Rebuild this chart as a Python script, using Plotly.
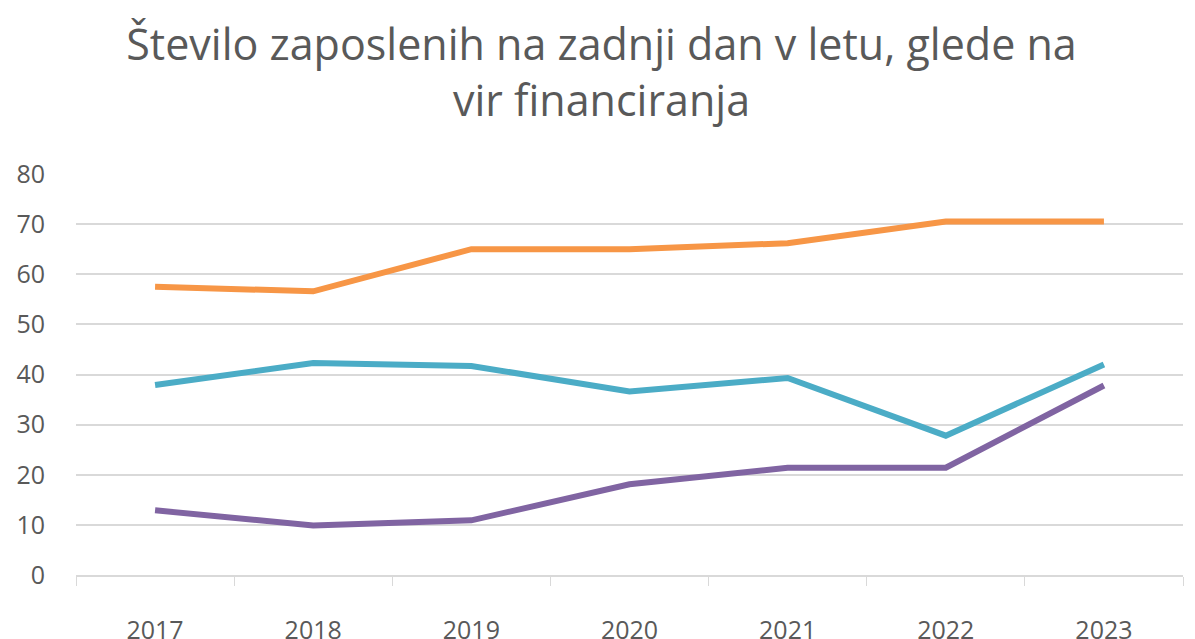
import plotly.graph_objects as go

years = ["2017", "2018", "2019", "2020", "2021", "2022", "2023"]
orange_vals = [57.5, 56.6, 65.0, 65.0, 66.2, 70.5, 70.5]
cyan_vals = [37.9, 42.3, 41.7, 36.6, 39.3, 27.8, 42.0]
purple_vals = [12.9, 9.9, 10.9, 18.1, 21.4, 21.4, 37.8]

y_ticks = [0, 10, 20, 30, 40, 50, 60, 70, 80]

series = [
    ("orange", orange_vals, "#F79646"),
    ("cyan", cyan_vals, "#4BACC6"),
    ("purple", purple_vals, "#8064A2"),
]

fig = go.Figure()
for name, vals, color in series:
    fig.add_trace(go.Scatter(x=years, y=vals, mode="lines", name=name,
                             line=dict(color=color, width=6)))

# page body has an 8px margin, so the figure is made 8px smaller
fig.update_layout(
    width=1187, height=631,
    paper_bgcolor="white", plot_bgcolor="white",
    showlegend=False,
    margin=dict(l=68, r=12, t=166, b=64, autoexpand=False),
    title=dict(text="Število zaposlenih na zadnji dan v letu, glede na<br>vir financiranja",
               x=0.5, xanchor="center", y=0.917, yanchor="middle",
               font=dict(family="Open Sans", size=43, color="#595959")),
    font=dict(family="Open Sans", color="#595959"),
)
fig.update_xaxes(
    type="category", range=[-0.5, 6.5], automargin=False,
    showgrid=False, showline=True, linecolor="#D9D9D9", linewidth=1.5,
    ticks="outside", tickson="boundaries", ticklen=9, tickcolor="#D9D9D9",
    tickfont=dict(size=25, color="#595959"), ticklabelstandoff=32,
)
fig.update_yaxes(
    range=[0, 80], tickvals=y_ticks, automargin=False,
    showgrid=True, gridcolor="#D9D9D9", gridwidth=1.5,
    zeroline=False, showline=False, ticks="",
    tickfont=dict(size=25, color="#595959"), ticklabelstandoff=30,
)

fig.write_html("out.html")
